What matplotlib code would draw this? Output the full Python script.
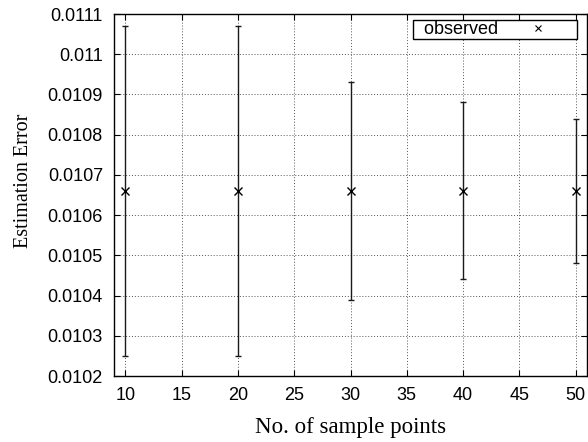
#!/usr/bin/env python3
"""Estimation error vs number of sample points, with error bars."""

import matplotlib
matplotlib.use("Agg")
import matplotlib.pyplot as plt
from matplotlib.ticker import FuncFormatter

sample_points = [10, 20, 30, 40, 50]
mean_error = [0.01066, 0.01066, 0.01066, 0.01066, 0.01066]
upper_error = [0.01107, 0.01107, 0.01093, 0.01088, 0.01084]
lower_error = [0.01025, 0.01025, 0.01039, 0.01044, 0.01048]

x_ticks = [10, 15, 20, 25, 30, 35, 40, 45, 50]
y_ticks = [0.0102, 0.0103, 0.0104, 0.0105, 0.0106, 0.0107, 0.0108, 0.0109, 0.0110, 0.0111]


def main() -> None:
    fig = plt.figure(figsize=(5.88, 4.42), dpi=100)
    ax = fig.add_axes([0.1939, 0.1493, 0.8044, 0.8190])

    yerr = [
        [m - lo for m, lo in zip(mean_error, lower_error)],
        [hi - m for m, hi in zip(mean_error, upper_error)],
    ]
    ax.errorbar(sample_points, mean_error, yerr=yerr, fmt="none", ecolor="#1a1a1a",
                elinewidth=1.0, capsize=2.2, capthick=1.0)
    ax.plot(sample_points, mean_error, linestyle="none", marker="x", color="black",
            markersize=6, markeredgewidth=1.0)
    # legend entry only shows the plain cross
    ax.plot([], [], linestyle="none", marker="x", color="black", markersize=5,
            markeredgewidth=0.8, label="  observed")

    ax.set_xlim(9, 51)
    ax.set_ylim(0.0102, 0.0111)
    ax.set_xticks(x_ticks)
    ax.set_yticks(y_ticks)
    ax.yaxis.set_major_formatter(FuncFormatter(lambda v, _: f"{v:g}"))

    tick_font = "Liberation Sans"
    for lab in ax.get_xticklabels() + ax.get_yticklabels():
        lab.set_fontfamily(tick_font)
        lab.set_fontsize(13)
    ax.tick_params(direction="in", length=4, width=0.8, top=True, right=True, pad=8)

    ax.grid(True, linestyle=(0, (1, 2)), color="#555555", linewidth=0.7)
    for spine in ax.spines.values():
        spine.set_linewidth(1.0)

    ax.set_xlabel("No. of sample points", fontfamily="Liberation Serif", fontsize=16.5, labelpad=9)
    ax.set_ylabel("Estimation Error", fontfamily="Liberation Serif", fontsize=14.5)
    ax.yaxis.set_label_coords(-0.172, 0.54)

    leg = ax.legend(loc="upper right", bbox_to_anchor=(0.979, 0.983), markerfirst=False,
                    fancybox=False, framealpha=1, edgecolor="black", borderpad=0.05,
                    handlelength=4.2, handletextpad=0.1, borderaxespad=0.0,
                    prop={"family": tick_font, "size": 13})
    leg.get_frame().set_linewidth(1.0)

    fig.savefig("out.png", dpi=100)
    plt.close(fig)


if __name__ == "__main__":
    main()
